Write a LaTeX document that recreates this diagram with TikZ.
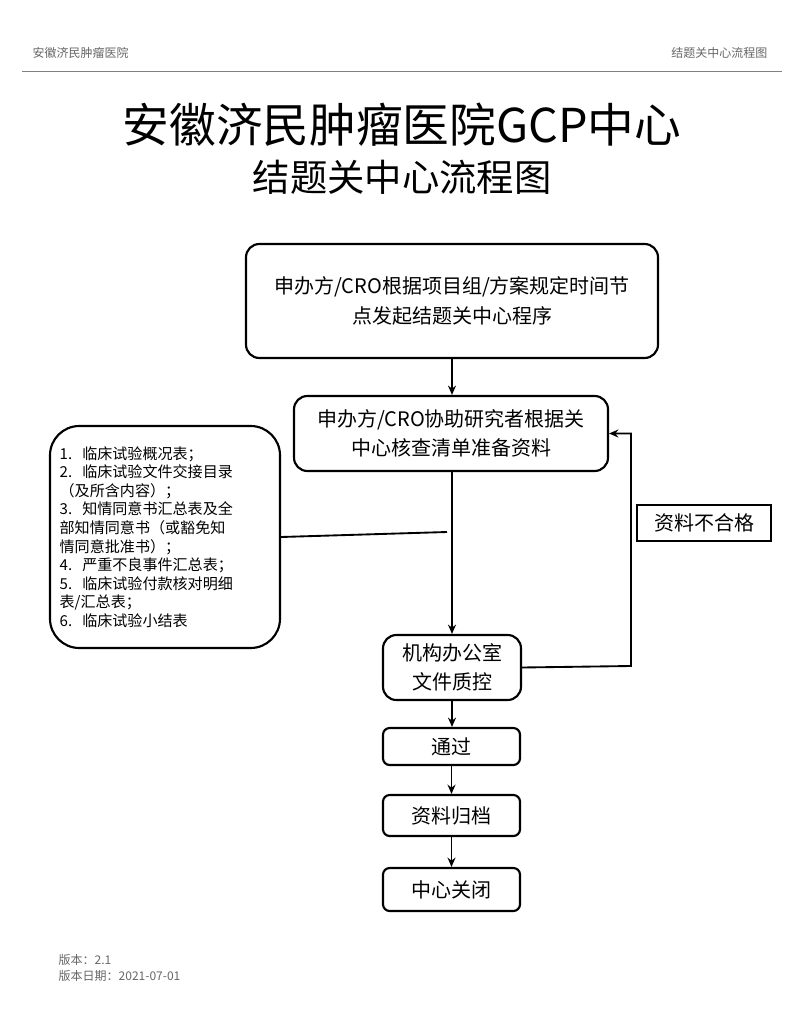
\documentclass[tikz,border=0pt]{standalone}
\usepackage{fontspec}
\setmainfont{Noto Sans CJK SC}
\usetikzlibrary{arrows.meta}
\tikzset{
  stage/.style={draw, line width=1.6pt, rounded corners=10pt, align=center, inner sep=0pt, font=\fontsize{15}{22}\selectfont},
  small stage/.style={stage, rounded corners=5pt, minimum width=102.75pt},
  flow/.style={line width=1.4pt, -{Stealth[length=7pt,width=6pt]}},
  hdr/.style={text=black!60, font=\fontsize{9}{11}\selectfont},
}
\begin{document}
\begin{tikzpicture}[x=0.75pt,y=-0.75pt]
\useasboundingbox (0,0) rectangle (804,1020);
% header
\node[hdr, anchor=west] (hl) at (28,53) {安徽济民肿瘤医院};
\node[hdr, anchor=east] (hr) at (772,53) {结题关中心流程图};
\draw[black!50, line width=0.5pt] (22,71) -- (782,71);
\node[font=\fontsize{35}{40}\selectfont] (t1) at (402,125) {安徽济民肿瘤医院GCP中心};
\node[font=\fontsize{28}{32}\selectfont] (t2) at (402,177) {结题关中心流程图};
% boxes
\node[stage, minimum width=309pt, minimum height=85.5pt] (s1) at (452,301) {申办方/CRO根据项目组/方案规定时间节\\点发起结题关中心程序};
\node[stage, minimum width=235.5pt, minimum height=56.25pt] (s2) at (451,433.5) {申办方/CRO协助研究者根据关\\中心核查清单准备资料};
\node[stage, rounded corners=22pt, minimum width=172.5pt, minimum height=166.5pt, text width=158pt, align=left, font=\fontsize{11.3}{13.9}\selectfont] (list) at (165,537) {%
1.\ \ 临床试验概况表；\\
2.\ \ 临床试验文件交接目录\\
（及所含内容）；\\
3.\ \ 知情同意书汇总表及全\\
部知情同意书（或豁免知\\
情同意批准书）；\\
4.\ \ 严重不良事件汇总表；\\
5.\ \ 临床试验付款核对明细\\
表/汇总表；\\
6.\ \ 临床试验小结表};
\node[stage, rounded corners=0pt, minimum width=100.5pt, minimum height=27pt] (bad) at (704,523) {资料不合格};
\node[stage, minimum width=103.5pt, minimum height=48.75pt] (s3) at (452,667.5) {机构办公室\\文件质控};
\node[small stage, minimum height=27.75pt] (s4) at (451.5,746.5) {通过};
\node[small stage, minimum height=30.75pt] (s5) at (451.5,815.5) {资料归档};
\node[small stage, minimum height=32.25pt] (s6) at (451.5,889.5) {中心关闭};
% connectors
\coordinate (join) at (447,532);
\coordinate (back) at (631,666);
\draw[flow] (s1.south) -- (s1.south |- s2.north);
\draw[flow] (s2.south -| s3.north) -- (s3.north);
\draw[line width=1.4pt] (list.east) -- (join);
\draw[flow] (s3.east) -- (back) |- (s2.east);
\draw[flow] (s3.south) -- (s3.south |- s4.north);
\draw[flow] (s4.south) -- (s5.north);
\draw[flow] (s5.south) -- (s6.north);
% footer
\node[hdr, anchor=west] (v1) at (54,960) {版本：2.1};
\node[hdr, anchor=west] (v2) at (54,976) {版本日期：2021-07-01};
\end{tikzpicture}
\end{document}
